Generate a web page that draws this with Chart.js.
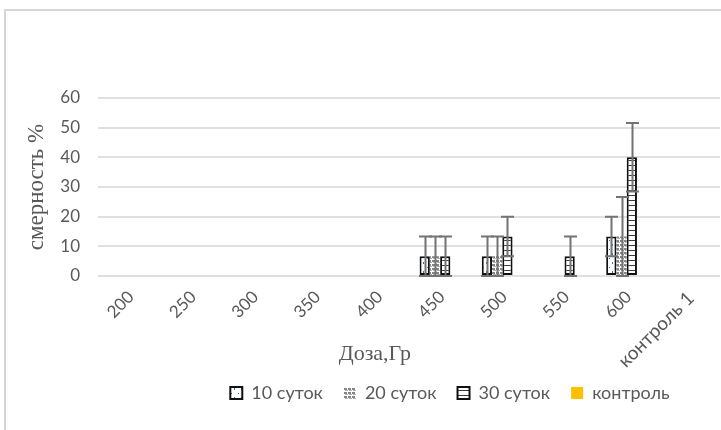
<!DOCTYPE html>
<html>
<head>
<meta charset="utf-8">
<script src="https://cdn.jsdelivr.net/npm/chart.js@4.4.1/dist/chart.umd.min.js"></script>
<style>
  html, body { margin: 0; padding: 0; background: #fff; overflow: hidden; }
  #wrap { width: 721px; height: 430px; position: relative; }
</style>
</head>
<body>
<div id="wrap"><canvas id="c" width="721" height="430"></canvas></div>
<script>
// Dose categories (Gy) and mortality (%) with symmetric error margins
const doses = ['200', '250', '300', '350', '400', '450', '500', '550', '600', 'контроль 1'];
const mort10 = [0, 0, 0, 0, 0, 6.67, 6.67, 0, 13.33, 0];
const err10  = [0, 0, 0, 0, 0, 6.67, 6.67, 0, 6.67, 0];
const mort20 = [0, 0, 0, 0, 0, 6.67, 6.67, 0, 13.33, 0];
const err20  = [0, 0, 0, 0, 0, 6.67, 6.67, 0, 13.33, 0];
const mort30 = [0, 0, 0, 0, 0, 6.67, 13.33, 6.67, 40, 0];
const err30  = [0, 0, 0, 0, 0, 6.67, 6.67, 6.67, 11.55, 0];
const mortControl = [0, 0, 0, 0, 0, 0, 0, 0, 0, 0];
const yTicks = [0, 10, 20, 30, 40, 50, 60];
const seriesNames = ['10 суток', '20 суток', '30 суток', 'контроль'];
const yTitle = 'смерность %';
const xTitle = 'Доза,Гр';

const canvas = document.getElementById('c');
const ctx0 = canvas.getContext('2d');

function pattern(w, h, paint) {
  const t = document.createElement('canvas');
  t.width = w; t.height = h;
  const g = t.getContext('2d');
  g.fillStyle = '#ffffff';
  g.fillRect(0, 0, w, h);
  paint(g);
  return ctx0.createPattern(t, 'repeat');
}

// sparse blue dots
const fill10 = pattern(7, 9, g => {
  g.fillStyle = '#2e75b6';
  g.fillRect(3, 1, 1, 2);
  g.fillRect(0, 6, 1, 1);
});
// dense grey dotted grid
const fill20 = pattern(4, 4, g => {
  g.fillStyle = '#858585';
  g.fillRect(0, 0, 3, 2);
  g.fillStyle = '#b0b0b0';
  g.fillRect(1, 2, 3, 1);
});
// horizontal hatch
const fill30 = pattern(4, 5, g => {
  g.fillStyle = '#3a3a3a';
  g.fillRect(0, 0, 4, 1);
});

const textGrey = '#595959';

const frame = {
  id: 'frame',
  beforeDraw(chart) {
    const { ctx } = chart;
    ctx.save();
    ctx.strokeStyle = '#d6d6d6';
    ctx.lineWidth = 2;
    ctx.beginPath();
    ctx.moveTo(5, 430);
    ctx.lineTo(5, 10);
    ctx.lineTo(721, 10);
    ctx.stroke();
    ctx.restore();
  }
};

const errorBars = {
  id: 'errorBars',
  afterDatasetsDraw(chart) {
    const { ctx } = chart;
    const y = chart.scales.y;
    chart.data.datasets.forEach((ds, i) => {
      if (!ds.errors) return;
      const meta = chart.getDatasetMeta(i);
      meta.data.forEach((bar, j) => {
        const e = ds.errors[j];
        if (!e) return;
        const v = ds.data[j];
        const x = Math.round(bar.x) + 0.5;
        const yHi = y.getPixelForValue(v + e);
        const yLo = y.getPixelForValue(Math.max(v - e, 0));
        const cap = 6.5;
        ctx.save();
        ctx.strokeStyle = '#737373';
        ctx.lineWidth = 2;
        ctx.beginPath();
        ctx.moveTo(x, yHi); ctx.lineTo(x, yLo);
        ctx.moveTo(x - cap, yHi); ctx.lineTo(x + cap, yHi);
        ctx.moveTo(x - cap, yLo); ctx.lineTo(x + cap, yLo);
        ctx.stroke();
        ctx.restore();
      });
    });
  }
};

const xCaption = {
  id: 'xCaption',
  afterDraw(chart) {
    const { ctx, chartArea } = chart;
    ctx.save();
    ctx.font = '22px "Liberation Serif"';
    ctx.fillStyle = textGrey;
    ctx.textAlign = 'center';
    ctx.textBaseline = 'middle';
    ctx.fillText(xTitle, chartArea.left + chartArea.width * 0.445, 354);
    ctx.restore();
  }
};

// legend sits right of centre and tucks under the rotated tick labels
const legendShift = {
  id: 'legendShift',
  afterLayout(chart) {
    const l = chart.legend;
    l.left += 90;
    l.right += 90;
    l.top -= 13;
    l.bottom -= 13;
  }
};

new Chart(canvas, {
  type: 'bar',
  data: {
    labels: doses,
    datasets: [
      { label: seriesNames[0], data: mort10, errors: err10, backgroundColor: fill10, borderColor: '#111111', borderWidth: 2, borderSkipped: false },
      { label: seriesNames[1], data: mort20, errors: err20, backgroundColor: fill20, borderColor: '#a0a0a0', borderWidth: 0, borderSkipped: false },
      { label: seriesNames[2], data: mort30, errors: err30, backgroundColor: fill30, borderColor: '#111111', borderWidth: 2, borderSkipped: false },
      { label: seriesNames[3], data: mortControl, backgroundColor: '#ffc000', borderWidth: 0 }
    ]
  },
  options: {
    responsive: false,
    animation: false,
    layout: { padding: { top: 98, right: 1, bottom: 5, left: 0 } },
    datasets: { bar: { categoryPercentage: 0.66, barPercentage: 1.0 } },
    plugins: {
      tooltip: { enabled: false },
      legend: {
        position: 'bottom',
        labels: {
          boxWidth: 12,
          boxHeight: 12,
          padding: 21,
          color: textGrey,
          font: { family: 'Lato', size: 18 }
        }
      }
    },
    scales: {
      x: {
        grid: { display: false, drawTicks: false },
        border: { display: false },
        ticks: {
          autoSkip: false,
          minRotation: 45,
          maxRotation: 45,
          padding: 11,
          labelOffset: 2,
          color: textGrey,
          // text labels get a larger size than the numeric doses
          font: (c) => ({ family: 'Lato', size: isNaN(Number(doses[c.index])) ? 19 : 17 })
        },
        afterFit(scale) { scale.height = 100; }
      },
      y: {
        min: 0,
        max: 60,
        afterBuildTicks(scale) { scale.ticks = yTicks.map(v => ({ value: v })); },
        grid: { color: '#e0e0e0', lineWidth: 2, drawTicks: false },
        border: { display: false },
        ticks: {
          padding: 18,
          color: textGrey,
          font: { family: 'Lato', size: 17 }
        },
        title: {
          display: true,
          text: yTitle,
          color: textGrey,
          font: { family: 'Liberation Serif', size: 23 },
          padding: { top: 23, bottom: 0 }
        },
        afterFit(scale) { scale.width = 98; }
      }
    }
  },
  plugins: [frame, errorBars, xCaption, legendShift]
});
</script>
</body>
</html>
